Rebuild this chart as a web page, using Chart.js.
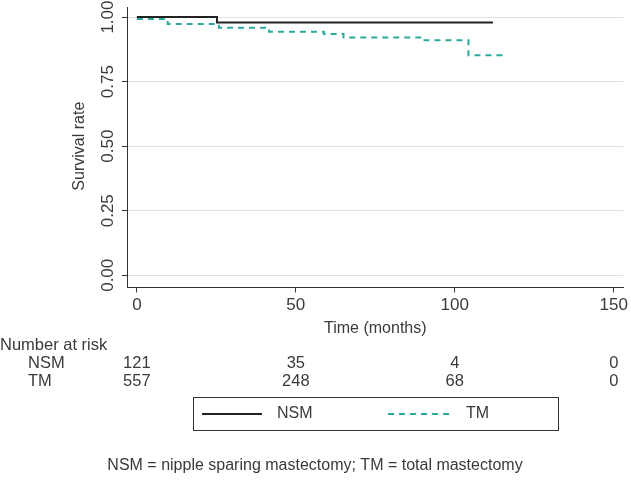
<!DOCTYPE html>
<html>
<head>
<meta charset="utf-8">
<script src="https://cdn.jsdelivr.net/npm/chart.js@4"></script>
<style>
  html, body { margin: 0; padding: 0; background: #fff; }
  #wrap { width: 631px; height: 489px; position: relative; }
</style>
</head>
<body>
<div id="wrap"><canvas id="km"></canvas></div>
<script>
// survival curves
const nsmTimes = [0, 25.2, 112];
const nsmSurv = [1.0, 0.979, 0.979];
const tmTimes = [0, 9.7, 25.8, 41.6, 58.8, 65, 90.5, 104.3, 116.6];
const tmSurv = [0.993, 0.973, 0.959, 0.943, 0.934, 0.921, 0.910, 0.852, 0.852];

const xTicks = [0, 50, 100, 150];
const yTicks = [0, 0.25, 0.5, 0.75, 1];

// number at risk table
const riskTimes = [0, 50, 100, 150];
const riskGroups = ['NSM', 'TM'];
const nsmRisk = [121, 35, 4, 0];
const tmRisk = [557, 248, 68, 0];

const footnote = 'NSM = nipple sparing mastectomy; TM = total mastectomy';

const FONT = "'Liberation Sans', Arial, sans-serif";
const TEXT = '#3a3a3a';
const TEAL = '#2aaa9c';
const DARK = '#222222';

function toPoints(xs, ys){
    return xs.map((x, i) => ({x: x, y: ys[i]}));
}

const extras = {
    id: 'extras',
    afterDraw(chart){
        const ctx = chart.ctx;
        const xs = chart.scales.x;
        const ys = chart.scales.y;
        ctx.save();
        ctx.fillStyle = TEXT;

        // y tick labels, rotated like the original
        ctx.font = '17px ' + FONT;
        ctx.textAlign = 'center';
        ctx.textBaseline = 'middle';
        yTicks.forEach(v => {
            ctx.save();
            ctx.translate(108, ys.getPixelForValue(v));
            ctx.rotate(-Math.PI / 2);
            ctx.fillText(v.toFixed(2), 0, 0);
            ctx.restore();
        });
        ctx.save();
        ctx.font = '16px ' + FONT;
        ctx.translate(80, (ys.getPixelForValue(0) + ys.getPixelForValue(1)) / 2);
        ctx.rotate(-Math.PI / 2);
        ctx.fillText('Survival rate', 0, 0);
        ctx.restore();

        // number at risk
        ctx.font = '16.5px ' + FONT;
        ctx.textBaseline = 'alphabetic';
        ctx.textAlign = 'left';
        ctx.fillText('Number at risk', 0, 350);
        const rows = [nsmRisk, tmRisk];
        rows.forEach((row, r) => {
            const base = 368 + r * 18;
            ctx.textAlign = 'left';
            ctx.fillText(riskGroups[r], 28, base);
            ctx.textAlign = 'center';
            row.forEach((n, i) => {
                ctx.fillText(String(n), xs.getPixelForValue(riskTimes[i]), base);
            });
        });

        // legend box
        ctx.font = '16px ' + FONT;
        ctx.strokeStyle = '#333';
        ctx.lineWidth = 1;
        ctx.strokeRect(193.5, 397.5, 365, 33);
        ctx.lineWidth = 2;
        ctx.strokeStyle = DARK;
        ctx.beginPath();
        ctx.moveTo(202, 414);
        ctx.lineTo(262, 414);
        ctx.stroke();
        ctx.strokeStyle = TEAL;
        ctx.setLineDash([6, 5]);
        ctx.beginPath();
        ctx.moveTo(388, 414);
        ctx.lineTo(450, 414);
        ctx.stroke();
        ctx.setLineDash([]);
        ctx.textAlign = 'left';
        ctx.textBaseline = 'middle';
        ctx.fillText('NSM', 277, 414);
        ctx.fillText('TM', 466, 414);

        // footnote
        ctx.textAlign = 'center';
        ctx.fillText(footnote, 315, 466);
        ctx.restore();
    }
};

new Chart(document.getElementById('km'), {
    type: 'line',
    data: {
        datasets: [{
            label: 'NSM',
            data: toPoints(nsmTimes, nsmSurv),
            borderColor: DARK,
            borderWidth: 2,
            stepped: 'before',
            pointRadius: 0,
            fill: false
        }, {
            label: 'TM',
            data: toPoints(tmTimes, tmSurv),
            borderColor: TEAL,
            borderWidth: 2,
            borderDash: [6, 5],
            stepped: 'before',
            pointRadius: 0,
            fill: false
        }]
    },
    options: {
        responsive: true,
        maintainAspectRatio: false,
        animation: false,
        layout: {padding: {left: 122, top: 7, right: 4, bottom: 147}},
        plugins: {
            legend: {display: false},
            tooltip: {enabled: false}
        },
        scales: {
            x: {
                type: 'linear',
                min: -3.1,
                max: 153.1,
                afterBuildTicks: s => { s.ticks = xTicks.map(v => ({value: v})); },
                grid: {display: true, drawOnChartArea: false, tickLength: 5, tickColor: '#333'},
                border: {color: '#333', width: 1},
                ticks: {color: TEXT, font: {family: FONT, size: 17}, padding: 3, maxRotation: 0},
                title: {display: true, text: 'Time (months)', color: TEXT,
                        font: {family: FONT, size: 16}, padding: {top: 0, bottom: 4}}
            },
            y: {
                min: -0.047,
                max: 1.039,
                afterBuildTicks: s => { s.ticks = yTicks.map(v => ({value: v})); },
                grid: {color: '#e2e2e2', lineWidth: 1, tickLength: 5, tickColor: '#333'},
                border: {color: '#333', width: 1},
                ticks: {display: false}
            }
        }
    },
    plugins: [extras]
});
</script>
</body>
</html>
